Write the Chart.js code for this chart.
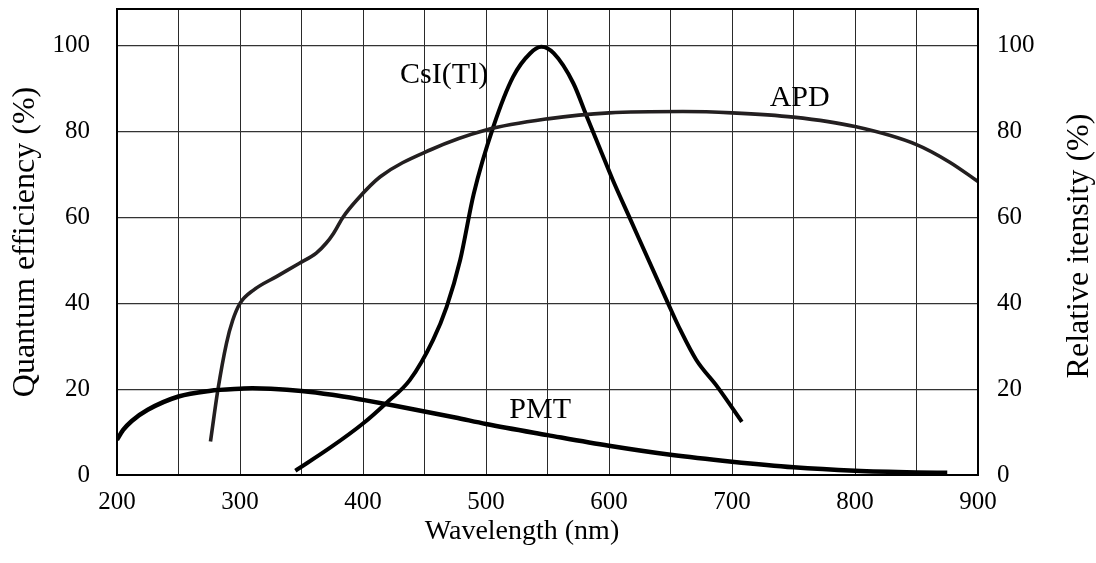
<!DOCTYPE html>
<html>
<head>
<meta charset="utf-8">
<script src="https://cdn.jsdelivr.net/npm/chart.js@4.4.1/dist/chart.umd.min.js"></script>
<style>
html,body{margin:0;padding:0;background:#fff;}
#wrap{width:1096px;height:563px;position:relative;}
</style>
</head>
<body>
<div id="wrap"><canvas id="c" width="1096" height="563"></canvas></div>
<script>
// ---- data ----
const pmtWavelength = [200, 205, 212, 225, 250, 275, 300, 310, 325, 350, 375, 400, 425, 450, 475, 500, 550, 600, 650, 700, 750, 800, 850, 875];
const pmtQE         = [8.2, 10.5, 12.6, 15.2, 18.3, 19.6, 20.1, 20.2, 20.1, 19.6, 18.7, 17.5, 16.2, 14.8, 13.4, 11.9, 9.3, 6.8, 4.7, 3.1, 1.8, 1.0, 0.6, 0.5];

const apdWavelength = [276, 282, 289, 294, 300, 311, 330, 348, 362, 370, 376, 384, 395, 414, 455, 500, 550, 600, 660, 700, 750, 800, 850, 877, 900];
const apdQE         = [7.8, 19.8, 30.7, 36.0, 40.0, 43.1, 46.3, 49.3, 51.7, 54.0, 56.3, 60.2, 64.1, 69.5, 75.8, 80.4, 83.0, 84.4, 84.7, 84.4, 83.4, 81.2, 77.0, 72.9, 68.4];

const csiWavelength = [345, 373, 400, 419, 438, 457, 468, 479, 490, 506, 522, 536, 545, 555, 571, 582, 593, 603, 617, 648, 658, 671, 688, 708];
const csiIntensity  = [1.0, 6.3, 12.0, 16.8, 22.1, 31.5, 39.2, 50.1, 65.5, 81.2, 92.8, 98.3, 99.8, 98.3, 91.3, 83.5, 75.8, 68.8, 59.8, 40.0, 33.8, 26.8, 20.6, 12.4];

const xTickLabels = [200, 300, 400, 500, 600, 700, 800, 900];
const yTickLabels = [0, 20, 40, 60, 80, 100];

const seriesNames = ['PMT', 'APD', 'CsI(Tl)'];
// label anchors (data coordinates: wavelength, value) for the curve names
const labelWavelength = [544, 755, 466];
const labelValue      = [13.3, 86.0, 91.3];

const xTitle = 'Wavelength (nm)';
const yTitle = 'Quantum efficiency (%)';
const y2Title = 'Relative itensity (%)';

const toPts = (xs, ys) => xs.map((x, i) => ({x: x, y: ys[i]}));
const FONT = "'Liberation Serif', 'DejaVu Serif', serif";

const framePlugin = {
  id: 'frameAndText',
  afterDraw(chart) {
    const {ctx, chartArea: a, scales} = chart;
    ctx.save();
    ctx.strokeStyle = '#000';
    ctx.lineWidth = 2;
    ctx.strokeRect(a.left, a.top, a.right - a.left, a.bottom - a.top);
    // curve names
    ctx.fillStyle = '#000';
    ctx.font = '30px ' + FONT;
    ctx.textAlign = 'center';
    ctx.textBaseline = 'alphabetic';
    seriesNames.forEach((n, i) => {
      ctx.fillText(n, scales.x.getPixelForValue(labelWavelength[i]), scales.y.getPixelForValue(labelValue[i]));
    });
    // x title
    ctx.font = '28px ' + FONT;
    ctx.textBaseline = 'middle';
    ctx.fillText(xTitle, 522, 532);
    // right title, reading bottom-to-top
    ctx.font = '32px ' + FONT;
    ctx.translate(1080, 246);
    ctx.rotate(-Math.PI / 2);
    ctx.fillText(y2Title, 0, 0);
    ctx.restore();
  }
};

const fixV = w => s => { s.width = w; s.paddingTop = 0; s.paddingBottom = 0; };

new Chart(document.getElementById('c'), {
  type: 'line',
  data: {
    datasets: [
      {label: 'PMT', data: toPts(pmtWavelength, pmtQE), borderColor: '#000', borderWidth: 4.5, yAxisID: 'y'},
      {label: 'APD', data: toPts(apdWavelength, apdQE), borderColor: '#231f20', borderWidth: 3.6, yAxisID: 'y'},
      {label: 'CsI(Tl)', data: toPts(csiWavelength, csiIntensity), borderColor: '#000', borderWidth: 4, yAxisID: 'y2'}
    ]
  },
  plugins: [framePlugin],
  options: {
    responsive: false,
    animation: false,
    layout: {padding: {top: 9, left: 0, right: 0, bottom: 0}},
    elements: {
      point: {radius: 0},
      line: {tension: 0.4, cubicInterpolationMode: 'monotone', fill: false, borderCapStyle: 'butt'}
    },
    plugins: {legend: {display: false}, tooltip: {enabled: false}},
    scales: {
      x: {
        type: 'linear', min: 200, max: 900,
        afterFit: s => { s.height = 88; s.paddingLeft = 0; s.paddingRight = 0; },
        grid: {color: '#2a2a2a', lineWidth: 1, drawTicks: false},
        border: {display: false},
        ticks: {
          stepSize: 50, autoSkip: false, padding: 12, color: '#000',
          font: {family: FONT, size: 25},
          callback: v => xTickLabels.includes(v) ? String(v) : ''
        }
      },
      y: {
        type: 'linear', position: 'left', min: 0, max: 108.6,
        afterFit: fixV(117),
        grid: {color: '#333', lineWidth: 1.2, drawTicks: false},
        border: {display: false},
        ticks: {
          stepSize: 20, includeBounds: false, padding: 27, color: '#000',
          font: {family: FONT, size: 25},
          callback: v => yTickLabels.includes(v) ? String(v) : ''
        },
        title: {display: true, text: yTitle, color: '#000', font: {family: FONT, size: 32}, padding: {top: 6, bottom: 0}}
      },
      y2: {
        type: 'linear', position: 'right', min: 0, max: 108.6,
        afterFit: fixV(118),
        grid: {display: false, drawTicks: false},
        border: {display: false},
        ticks: {
          stepSize: 20, includeBounds: false, padding: 19, color: '#000',
          font: {family: FONT, size: 25},
          callback: v => yTickLabels.includes(v) ? String(v) : ''
        }
      }
    }
  }
});
</script>
</body>
</html>
